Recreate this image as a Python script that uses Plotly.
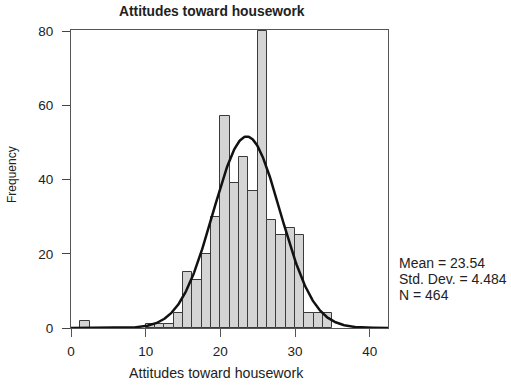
import numpy as np
import plotly.graph_objects as go

# Data (bin start, count), bin width 1.25
bin_starts = [1.25, 10.0, 11.25, 12.5, 13.75, 15.0, 16.25, 17.5, 18.75, 20.0, 21.25,
              22.5, 23.75, 25.0, 26.25, 27.5, 28.75, 30.0, 31.25, 32.5, 33.75]
counts = [2, 1, 1, 1, 4, 15, 13, 20, 30, 57, 39, 46, 37, 80, 29, 25, 27, 25, 4, 4, 4]
bin_width = 1.25

mean_val = 23.54
std_val = 4.484
n_val = 464

x_ticks = [0, 10, 20, 30, 40]
y_ticks = [0, 20, 40, 60, 80]

x_range = [0, 42.45]
y_range = [0, 80.3]

stats_lines = ["Mean = 23.54", "Std. Dev. = 4.484", "N = 464"]

centers = [b + bin_width / 2 for b in bin_starts]

xs = np.linspace(x_range[0], x_range[1], 400)
ys = n_val * bin_width / (std_val * np.sqrt(2 * np.pi)) * np.exp(-0.5 * ((xs - mean_val) / std_val) ** 2)

fig = go.Figure()
fig.add_trace(go.Bar(
    x=centers, y=counts, width=[bin_width] * len(centers),
    marker=dict(color="#d4d4d4", line=dict(color="#3a3a3a", width=1)),
    showlegend=False, hoverinfo="x+y",
))
fig.add_trace(go.Scatter(
    x=xs, y=ys, mode="lines",
    line=dict(color="#111111", width=2.5),
    showlegend=False,
))

font_family = "Liberation Sans, Arial, sans-serif"

L, R, T, B = 71, 123, 30, 57
W, H = 511, 385
pw, ph = W - L - R, H - T - B


def px_x(x):
    return (x - L) / pw


def px_y(y):
    return (H - B - y) / ph


annotations = [
    dict(text="<b>Attitudes toward housework</b>", xref="paper", yref="paper",
         x=px_x(212), y=px_y(12), xanchor="center", yanchor="middle",
         showarrow=False, font=dict(size=13.8, color="#222222")),
    dict(text="Attitudes toward housework", xref="paper", yref="paper",
         x=px_x(216), y=px_y(373), xanchor="center", yanchor="middle",
         showarrow=False, font=dict(size=14.2, color="#222222")),
    dict(text="Frequency", xref="paper", yref="paper",
         x=px_x(12), y=px_y(175), xanchor="center", yanchor="middle", textangle=-90,
         showarrow=False, font=dict(size=12, color="#222222")),
]
for i, line in enumerate(stats_lines):
    annotations.append(dict(
        text=line, xref="paper", yref="paper",
        x=px_x(397), y=px_y(263 + 16 * i), xanchor="left", yanchor="middle",
        showarrow=False, font=dict(size=14, color="#222222")))

fig.update_layout(
    width=W, height=H,
    margin=dict(l=L, r=R, t=T, b=B),
    paper_bgcolor="white", plot_bgcolor="white",
    font=dict(family=font_family, size=13, color="#222222"),
    bargap=0,
    xaxis=dict(
        range=x_range, tickvals=x_ticks, ticktext=[str(t) for t in x_ticks],
        showgrid=False, zeroline=False,
        showline=True, linecolor="#555555", linewidth=1, mirror=True,
        ticks="outside", ticklen=8, tickcolor="#555555", tickwidth=1,
        ticklabelstandoff=3,
        tickfont=dict(size=13.5, color="#222222"),
    ),
    yaxis=dict(
        range=y_range, tickvals=y_ticks, ticktext=[str(t) for t in y_ticks],
        showgrid=False, zeroline=False,
        showline=True, linecolor="#555555", linewidth=1, mirror=True,
        ticks="outside", ticklen=8, tickcolor="#444444", tickwidth=1,
        ticklabelstandoff=6,
        tickfont=dict(size=13.5, color="#222222"),
    ),
    annotations=annotations,
)

fig.write_html("out.html")
